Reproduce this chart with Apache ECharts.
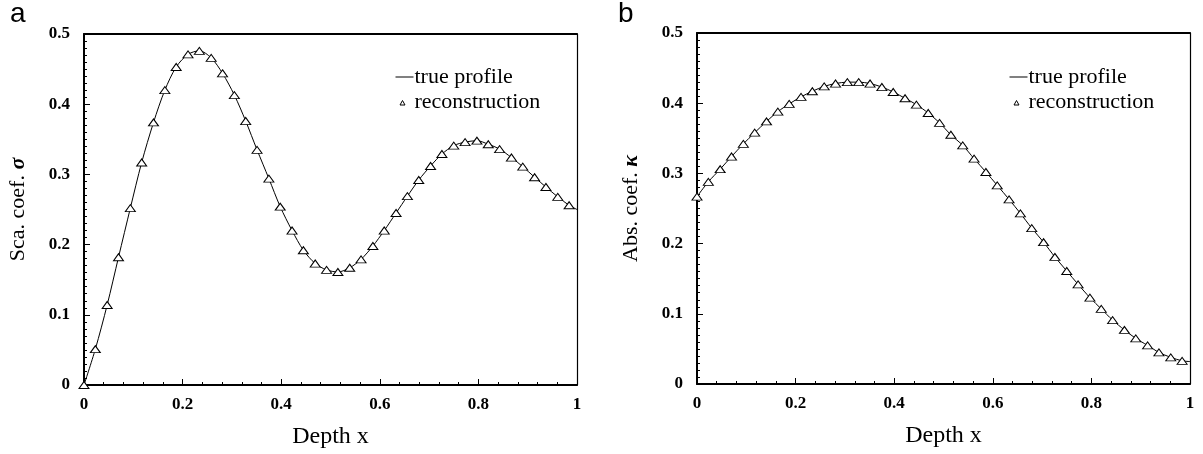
<!DOCTYPE html>
<html>
<head>
<meta charset="utf-8">
<script src="https://cdn.jsdelivr.net/npm/echarts@6/dist/echarts.min.js"></script>
<style>
html,body{margin:0;padding:0;background:#fff;}
#chart{width:1203px;height:454px;}
</style>
</head>
<body>
<div id="chart"></div>
<script>
// Depth positions of reconstruction points (shared by both panels)
var depthX = [0, 0.023, 0.047, 0.070, 0.094, 0.117, 0.141, 0.164, 0.187, 0.211,
  0.234, 0.258, 0.281, 0.305, 0.328, 0.351, 0.375, 0.398, 0.422, 0.445,
  0.469, 0.492, 0.515, 0.539, 0.562, 0.586, 0.609, 0.633, 0.656, 0.679,
  0.703, 0.726, 0.750, 0.773, 0.797, 0.820, 0.843, 0.867, 0.890, 0.914,
  0.937, 0.961, 0.984];
// Panel a: scattering coefficient sigma
var sigmaVals = [0.000, 0.051, 0.114, 0.182, 0.252, 0.317, 0.374, 0.420, 0.453, 0.471,
  0.476, 0.466, 0.444, 0.413, 0.376, 0.335, 0.294, 0.254, 0.220, 0.192,
  0.173, 0.164, 0.161, 0.167, 0.179, 0.198, 0.220, 0.245, 0.269, 0.292,
  0.312, 0.329, 0.341, 0.346, 0.348, 0.343, 0.336, 0.324, 0.311, 0.296,
  0.282, 0.268, 0.256];
var sigmaEnd = [1, 0.250];
// Panel b: absorption coefficient kappa
var kappaVals = [0.267, 0.288, 0.306, 0.324, 0.342, 0.358, 0.374, 0.388, 0.399, 0.409,
  0.417, 0.424, 0.428, 0.430, 0.430, 0.428, 0.423, 0.416, 0.407, 0.398,
  0.386, 0.372, 0.355, 0.340, 0.321, 0.302, 0.283, 0.263, 0.243, 0.222,
  0.202, 0.181, 0.161, 0.142, 0.123, 0.107, 0.091, 0.077, 0.065, 0.055,
  0.045, 0.038, 0.033];
var kappaEnd = [1, 0.032];
var legendNames = ['true profile', 'reconstruction'];
var panelLabels = ['a', 'b'];

function pairs(xs, ys) { return xs.map(function (x, i) { return [x, ys[i]]; }); }

var serif = 'Liberation Serif';
function xAxisFor(gi) {
  return [{
    gridIndex: gi, type: 'value', min: 0, max: 1, interval: 0.2,
    name: 'Depth x', nameLocation: 'middle', nameGap: 40,
    nameTextStyle: { fontFamily: serif, fontSize: 24, color: '#000' },
    axisLine: { show: true, onZero: false, lineStyle: { color: '#000', width: 2 } },
    axisTick: { show: true, inside: true, length: 6, lineStyle: { color: '#000', width: 1 } },
    minorTick: { show: true, splitNumber: 5, length: 3, lineStyle: { color: '#000', width: 1 } },
    axisLabel: { fontFamily: serif, fontSize: 17, fontWeight: 'bold', color: '#000', margin: 11 },
    splitLine: { show: false }
  }, {
    gridIndex: gi, type: 'value', position: 'top', min: 0, max: 1,
    axisLine: { show: true, onZero: false, lineStyle: { color: '#000', width: 2 } },
    axisTick: { show: false }, axisLabel: { show: false }, splitLine: { show: false }
  }];
}
function yAxisFor(gi, name) {
  return [{
    gridIndex: gi, type: 'value', min: 0, max: 0.5, interval: 0.1,
    name: name, nameLocation: 'middle', nameGap: 55,
    nameTextStyle: { fontFamily: serif, fontSize: 22, color: '#000',
      rich: { i: { fontFamily: serif, fontSize: 22, fontStyle: 'italic', fontWeight: 'bold', color: '#000' } } },
    axisLine: { show: true, onZero: false, lineStyle: { color: '#000', width: 2 } },
    axisTick: { show: true, inside: true, length: 6, lineStyle: { color: '#000', width: 1 } },
    minorTick: { show: true, splitNumber: 10, length: 3, lineStyle: { color: '#000', width: 1 } },
    axisLabel: { fontFamily: serif, fontSize: 17, fontWeight: 'bold', color: '#000', margin: 14 },
    splitLine: { show: false }
  }, {
    gridIndex: gi, type: 'value', position: 'right', min: 0, max: 0.5,
    axisLine: { show: true, onZero: false, lineStyle: { color: '#000', width: 1.2 } },
    axisTick: { show: false }, axisLabel: { show: false }, splitLine: { show: false }
  }];
}

var xAxes = xAxisFor(0).concat(xAxisFor(1));
var yAxes = yAxisFor(0, 'Sca. coef. {i|σ}').concat(yAxisFor(1, 'Abs. coef. {i|κ}'));

function lineSeries(xi, yi, data) {
  return { name: legendNames[0], type: 'line', xAxisIndex: xi, yAxisIndex: yi, data: data,
    smooth: 0.3, showSymbol: false, symbol: 'none', lineStyle: { color: '#000', width: 1 },
    itemStyle: { color: '#000' }, silent: true, z: 2 };
}
function triSeries(xi, yi, data) {
  return { name: legendNames[1], type: 'scatter', xAxisIndex: xi, yAxisIndex: yi, data: data,
    symbol: 'triangle', symbolSize: [10, 7],
    itemStyle: { color: '#fff', borderColor: '#000', borderWidth: 1, opacity: 1 }, z: 3 };
}

var sigmaPts = pairs(depthX, sigmaVals);
var kappaPts = pairs(depthX, kappaVals);

function legendFor(left) {
  return {
    left: left, top: 61, orient: 'vertical', itemGap: 3, itemWidth: 18, itemHeight: 6,
    selectedMode: false,
    textStyle: { fontFamily: serif, fontSize: 22, color: '#000', padding: [0, 0, 0, -4] },
    data: [
      { name: legendNames[0], icon: 'path://M0,0L18,0L18,1L0,1Z', itemStyle: { color: '#000' } },
      { name: legendNames[1], icon: 'path://M0,0L0,0M18,6L18,6M4.5,6L7,1.5L9.5,6Z',
        itemStyle: { color: '#fff', borderColor: '#000', borderWidth: 1 } }
    ]
  };
}

var chart = echarts.init(document.getElementById('chart'), null, { renderer: 'canvas' });
chart.setOption({
  backgroundColor: '#fff',
  animation: false,
  grid: [
    { left: 84, top: 34, width: 493, height: 351 },
    { left: 697, top: 33, width: 493, height: 351 }
  ],
  xAxis: xAxes,
  yAxis: yAxes,
  legend: [legendFor(390), legendFor(1004)],
  graphic: [
    { type: 'text', left: 10, top: 0, style: { text: panelLabels[0], fontFamily: 'Liberation Sans', fontSize: 28, fill: '#000' } },
    { type: 'text', left: 618, top: 0, style: { text: panelLabels[1], fontFamily: 'Liberation Sans', fontSize: 28, fill: '#000' } }
  ],
  series: [
    lineSeries(0, 0, sigmaPts.concat([sigmaEnd])),
    triSeries(0, 0, sigmaPts),
    lineSeries(2, 2, kappaPts.concat([kappaEnd])),
    triSeries(2, 2, kappaPts)
  ]
});
</script>
</body>
</html>
